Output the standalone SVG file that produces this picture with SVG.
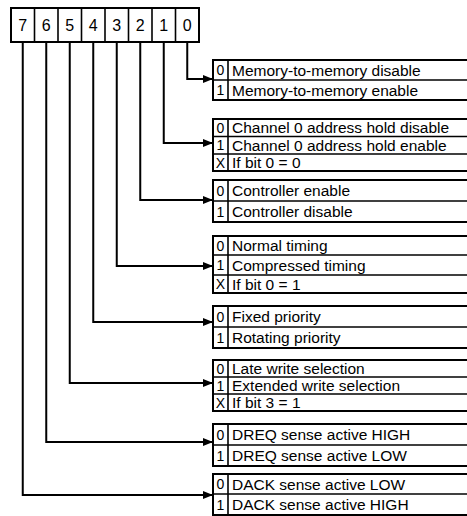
<svg xmlns="http://www.w3.org/2000/svg" width="467" height="516" viewBox="0 0 467 516">
<defs>
<marker id="ah" viewBox="0 0 10 8" refX="10" refY="4" markerWidth="10" markerHeight="8" markerUnits="userSpaceOnUse" orient="auto">
<path d="M0,0 L10,4 L0,8 Z" fill="#000"/>
</marker>
</defs>
<style>
.bx{fill:#fff;stroke:#000;stroke-width:2}
.dv{stroke:#000;stroke-width:1.6}
.bit{font-family:"Liberation Sans",Arial,sans-serif;font-size:16px;text-anchor:middle;fill:#000}
.n{font-family:"Liberation Sans",Arial,sans-serif;font-size:14px;text-anchor:middle;fill:#000}
.t{font-family:"Liberation Sans",Arial,sans-serif;font-size:15.5px;fill:#000}
.c{fill:none;stroke:#000;stroke-width:2;marker-end:url(#ah)}
</style>
<g id="register">
<rect class="bx" x="11" y="8" width="188" height="34"/>
<line class="dv" x1="34.5" y1="8" x2="34.5" y2="42"/>
<line class="dv" x1="58" y1="8" x2="58" y2="42"/>
<line class="dv" x1="81.5" y1="8" x2="81.5" y2="42"/>
<line class="dv" x1="105" y1="8" x2="105" y2="42"/>
<line class="dv" x1="128.5" y1="8" x2="128.5" y2="42"/>
<line class="dv" x1="152" y1="8" x2="152" y2="42"/>
<line class="dv" x1="175.5" y1="8" x2="175.5" y2="42"/>
<text class="bit" x="22.75" y="31">7</text>
<text class="bit" x="46.25" y="31">6</text>
<text class="bit" x="69.75" y="31">5</text>
<text class="bit" x="93.25" y="31">4</text>
<text class="bit" x="116.75" y="31">3</text>
<text class="bit" x="140.25" y="31">2</text>
<text class="bit" x="163.75" y="31">1</text>
<text class="bit" x="187.25" y="31">0</text>
</g>
<g id="connectors">
<path class="c" d="M187.25,42 V79 H213"/>
<path class="c" d="M163.75,42 V143 H213"/>
<path class="c" d="M140.25,42 V200 H213"/>
<path class="c" d="M116.75,42 V266 H213"/>
<path class="c" d="M93.25,42 V322 H213"/>
<path class="c" d="M69.75,42 V383 H213"/>
<path class="c" d="M46.25,42 V442 H213"/>
<path class="c" d="M22.75,42 V495 H213"/>
</g>
<g id="bit0">
<rect class="bx" x="213" y="60" width="260" height="40"/>
<line class="dv" x1="213" y1="80" x2="470" y2="80"/>
<line class="dv" x1="228" y1="60" x2="228" y2="100"/>
<text class="n" x="220.5" y="75">0</text><text class="t" x="232" y="75.5">Memory-to-memory disable</text>
<text class="n" x="220.5" y="95">1</text><text class="t" x="232" y="95.5">Memory-to-memory enable</text>
</g>
<g id="bit1">
<rect class="bx" x="213" y="119" width="260" height="52"/>
<line class="dv" x1="213" y1="136.5" x2="470" y2="136.5"/>
<line class="dv" x1="213" y1="154" x2="470" y2="154"/>
<line class="dv" x1="228" y1="119" x2="228" y2="171"/>
<text class="n" x="220.5" y="132.5">0</text><text class="t" x="232" y="133">Channel 0 address hold disable</text>
<text class="n" x="220.5" y="150">1</text><text class="t" x="232" y="150.5">Channel 0 address hold enable</text>
<text class="n" x="220.5" y="167.5">X</text><text class="t" x="232" y="168">If bit 0 = 0</text>
</g>
<g id="bit2">
<rect class="bx" x="213" y="180" width="260" height="42"/>
<line class="dv" x1="213" y1="201" x2="470" y2="201"/>
<line class="dv" x1="228" y1="180" x2="228" y2="222"/>
<text class="n" x="220.5" y="196">0</text><text class="t" x="232" y="196">Controller enable</text>
<text class="n" x="220.5" y="217">1</text><text class="t" x="232" y="217">Controller disable</text>
</g>
<g id="bit3">
<rect class="bx" x="213" y="236" width="260" height="57"/>
<line class="dv" x1="213" y1="255" x2="470" y2="255"/>
<line class="dv" x1="213" y1="275" x2="470" y2="275"/>
<line class="dv" x1="228" y1="236" x2="228" y2="293"/>
<text class="n" x="220.5" y="250.5">0</text><text class="t" x="232" y="251">Normal timing</text>
<text class="n" x="220.5" y="270">1</text><text class="t" x="232" y="270.5">Compressed timing</text>
<text class="n" x="220.5" y="289">X</text><text class="t" x="232" y="289.5">If bit 0 = 1</text>
</g>
<g id="bit4">
<rect class="bx" x="213" y="306" width="260" height="42"/>
<line class="dv" x1="213" y1="327" x2="470" y2="327"/>
<line class="dv" x1="228" y1="306" x2="228" y2="348"/>
<text class="n" x="220.5" y="322">0</text><text class="t" x="232" y="322">Fixed priority</text>
<text class="n" x="220.5" y="343">1</text><text class="t" x="232" y="343">Rotating priority</text>
</g>
<g id="bit5">
<rect class="bx" x="213" y="360" width="260" height="51"/>
<line class="dv" x1="213" y1="377" x2="470" y2="377"/>
<line class="dv" x1="213" y1="394" x2="470" y2="394"/>
<line class="dv" x1="228" y1="360" x2="228" y2="411"/>
<text class="n" x="220.5" y="373.5">0</text><text class="t" x="232" y="374">Late write selection</text>
<text class="n" x="220.5" y="390.5">1</text><text class="t" x="232" y="391">Extended write selection</text>
<text class="n" x="220.5" y="407.5">X</text><text class="t" x="232" y="408">If bit 3 = 1</text>
</g>
<g id="bit6">
<rect class="bx" x="213" y="424" width="260" height="42"/>
<line class="dv" x1="213" y1="445" x2="470" y2="445"/>
<line class="dv" x1="228" y1="424" x2="228" y2="466"/>
<text class="n" x="220.5" y="440">0</text><text class="t" x="232" y="440">DREQ sense active HIGH</text>
<text class="n" x="220.5" y="461">1</text><text class="t" x="232" y="461">DREQ sense active LOW</text>
</g>
<g id="bit7">
<rect class="bx" x="213" y="474" width="260" height="41"/>
<line class="dv" x1="213" y1="494" x2="470" y2="494"/>
<line class="dv" x1="228" y1="474" x2="228" y2="515"/>
<text class="n" x="220.5" y="489">0</text><text class="t" x="232" y="489.5">DACK sense active LOW</text>
<text class="n" x="220.5" y="510">1</text><text class="t" x="232" y="510">DACK sense active HIGH</text>
</g>
</svg>
